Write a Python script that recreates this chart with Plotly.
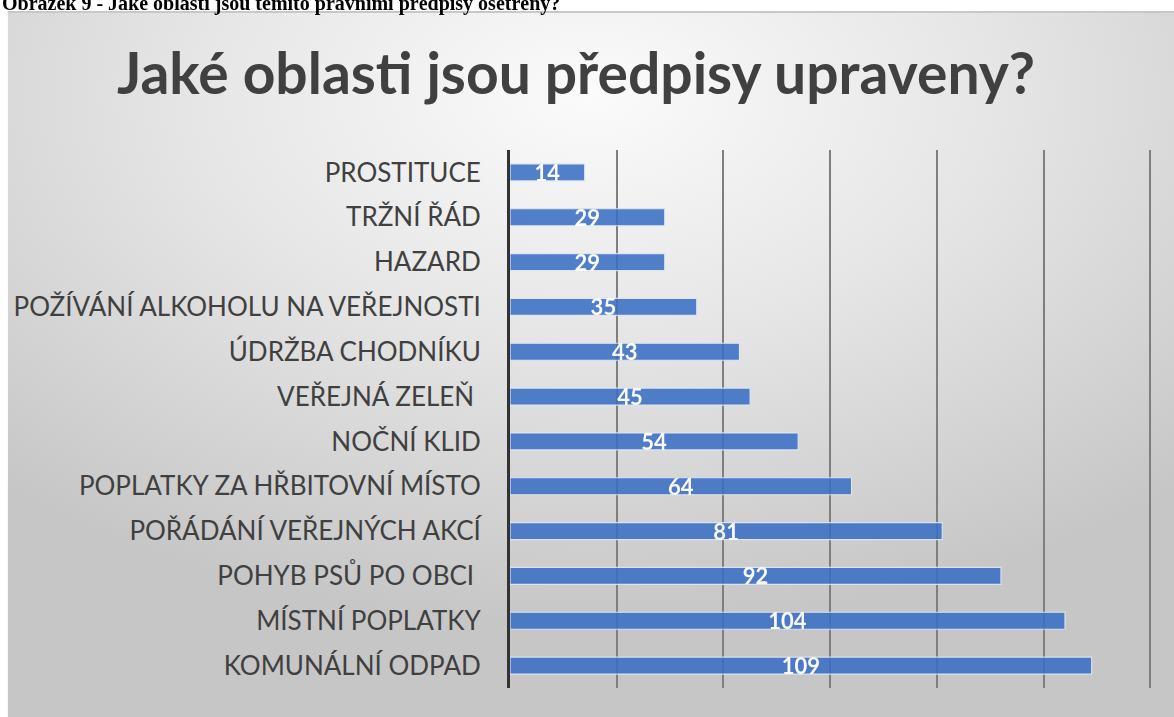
import base64
import plotly.graph_objects as go

categories = [
    "PROSTITUCE",
    "TRŽNÍ ŘÁD",
    "HAZARD",
    "POŽÍVÁNÍ ALKOHOLU NA VEŘEJNOSTI",
    "ÚDRŽBA CHODNÍKU",
    "VEŘEJNÁ ZELEŇ ",
    "NOČNÍ KLID",
    "POPLATKY ZA HŘBITOVNÍ MÍSTO",
    "POŘÁDÁNÍ VEŘEJNÝCH AKCÍ",
    "POHYB PSŮ PO OBCI ",
    "MÍSTNÍ POPLATKY",
    "KOMUNÁLNÍ ODPAD",
]
values = [14, 29, 29, 35, 43, 45, 54, 64, 81, 92, 104, 109]

title_text = "Jaké oblasti jsou předpisy upraveny?"
caption_text = "Obrázek 9 - Jaké oblasti jsou těmito právními předpisy ošetřeny?"

W, H = 1174, 717
PL, PR, PT, PB = 510, 1151.6, 150, 688   # plot area in pixels

def px_to_paper_x(px):
    return (px - PL) / (PR - PL)

def px_to_paper_y(py):
    return (PB - py) / (PB - PT)

# radial gradient background (chart frame)
FW, FH = W - 8, H - 11
svg = f'''<svg xmlns="http://www.w3.org/2000/svg" width="{FW}" height="{FH}" viewBox="0 0 {FW} {FH}" preserveAspectRatio="none">
<defs><radialGradient id="g" cx="0.5" cy="0.12" r="0.75" gradientUnits="objectBoundingBox">
<stop offset="0" stop-color="#fbfbfb"/><stop offset="0.45" stop-color="#e6e6e6"/><stop offset="1" stop-color="#c6c6c6"/>
</radialGradient></defs>
<rect x="0" y="0" width="{FW}" height="{FH}" fill="url(#g)"/>
<rect x="0" y="0" width="{FW}" height="2" fill="#c8c8c8"/>
</svg>'''
src = "data:image/svg+xml;base64," + base64.b64encode(svg.encode("utf-8")).decode("ascii")

fig = go.Figure()
fig.add_trace(go.Bar(
    x=values,
    y=categories,
    orientation="h",
    width=0.38,
    marker=dict(color="#3C6FC4", line=dict(color="#dbe5f4", width=1.2)),
    opacity=0.88,
    text=values,
    texttemplate="%{x}",
    textposition="inside",
    insidetextanchor="middle",
    constraintext="none",
    textangle=0,
    textfont=dict(family="Lato", size=22, color="white", weight="bold"),
    hoverinfo="skip",
))

fig.add_layout_image(dict(
    source=src, xref="paper", yref="paper",
    x=px_to_paper_x(8), y=px_to_paper_y(11),
    sizex=px_to_paper_x(W) - px_to_paper_x(8),
    sizey=px_to_paper_y(11) - px_to_paper_y(H),
    xanchor="left", yanchor="top", sizing="stretch", layer="below",
))

fig.add_annotation(
    text=caption_text, xref="paper", yref="paper",
    x=px_to_paper_x(0), y=px_to_paper_y(17), xanchor="left", yanchor="bottom",
    showarrow=False, font=dict(family="Liberation Serif", size=20, color="black", weight="bold"),
)

fig.update_layout(
    width=W, height=H,
    margin=dict(l=PL, r=W - PR, t=PT, b=H - PB),
    paper_bgcolor="white",
    plot_bgcolor="rgba(0,0,0,0)",
    showlegend=False,
    title=dict(
        text=title_text, x=576 / W, xref="container", xanchor="center",
        y=1 - 74 / H, yref="container", yanchor="middle",
        font=dict(family="Lato", size=57, color="#404040", weight="bold"),
    ),
    xaxis=dict(
        range=[0, 120.3], dtick=20, tick0=0, showgrid=True, gridcolor="#7f7f7f", gridwidth=1.5,
        zeroline=False, showticklabels=False, ticks="", showline=False, fixedrange=True,
    ),
    yaxis=dict(
        autorange="reversed", showgrid=False, zeroline=False,
        showline=True, linecolor="#333333", linewidth=3, layer="above traces",
        ticks="", ticklabelstandoff=21,
        tickfont=dict(family="Lato", size=26, color="#404040"),
        fixedrange=True,
    ),
    bargap=0.62,
)

fig.write_html("out.html", config={"displayModeBar": False},
               post_script="document.body.style.margin='0px';")
